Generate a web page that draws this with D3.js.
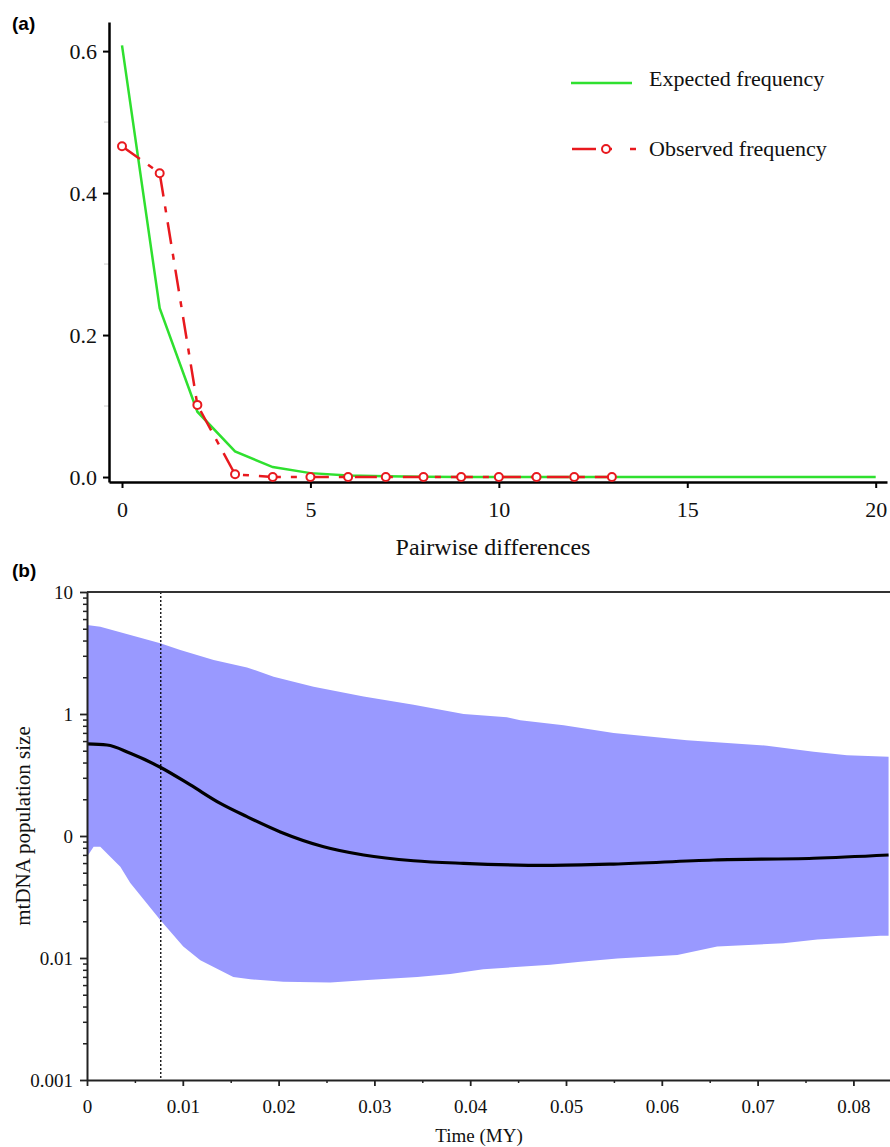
<!DOCTYPE html>
<html>
<head>
<meta charset="utf-8">
<script src="https://cdn.jsdelivr.net/npm/d3@7"></script>
<style>
  body { margin: 0; background: #fff; }
  svg { display: block; }
</style>
</head>
<body>
<div id="chart"></div>
<script>
// ---- panel (a): mismatch distribution ----
var diffs = [0,1,2,3,4,5,6,7,8,9,10,11,12,13,14,15,16,17,18,19,20];
var expectedFreq = [0.608,0.238,0.092,0.036,0.014,0.0055,0.002,0.001,0.0005,0.0002,0.0001,0,0,0,0,0,0,0,0,0,0];
var obsDiffs = [0,1,2,3,4,5,6,7,8,9,10,11,12,13];
var observedFreq = [0.466,0.428,0.1016,0.0038,0,0,0,0,0,0,0,0,0,0];
var freqTicks = [0,0.2,0.4,0.6];
var freqMinor = [0.1,0.3,0.5];
var diffTicks = [0,5,10,15,20];

// ---- panel (b): Bayesian skyline ----
var upperTime = [0,0.00139,0.00765,0.00974,0.01322,0.0167,0.01948,0.02365,0.02887,0.03409,0.03931,0.04384,0.04523,0.04975,0.05497,0.06263,0.07098,0.07585,0.07933,0.08367];
var upperSize = [5.36,5.20,3.80,3.35,2.77,2.41,2.02,1.67,1.39,1.19,1.0,0.94,0.89,0.81,0.70,0.61,0.55,0.49,0.46,0.447];
var medianTime = [0,0.00209,0.00452,0.00765,0.01079,0.01392,0.0167,0.02018,0.0247,0.02887,0.03409,0.03931,0.04802,0.05497,0.06541,0.07585,0.08367];
var medianSize = [0.568,0.557,0.476,0.366,0.262,0.185,0.144,0.108,0.0817,0.0699,0.0627,0.0597,0.0575,0.0589,0.0636,0.0657,0.0699];
var lowerTime = [0,0.00069,0.00139,0.00243,0.00348,0.00452,0.00765,0.01005,0.01183,0.01527,0.01705,0.02049,0.0254,0.02926,0.03448,0.03793,0.04137,0.04837,0.0515,0.05535,0.06162,0.06578,0.07268,0.07623,0.0828,0.08367];
var lowerSize = [0.0677,0.0817,0.0817,0.0677,0.056,0.0412,0.0205,0.0124,0.0096,0.0070,0.0067,0.0064,0.0063,0.0066,0.0070,0.0074,0.0081,0.0088,0.0093,0.0099,0.0106,0.0124,0.0132,0.0142,0.0152,0.0152];
var expansionTime = 0.0077;
var sizeTicks = [0.001,0.01,0.1,1,10];
var sizeLabels = ["0.001","0.01","0","1","10"];
var timeTicks = [0,0.01,0.02,0.03,0.04,0.05,0.06,0.07,0.08];
var timeLabels = ["0","0.01","0.02","0.03","0.04","0.05","0.06","0.07","0.08"];

var W = 890, H = 1147;
var SERIF = "'Liberation Serif', 'Times New Roman', serif";
var SANS = "'Liberation Sans', Arial, sans-serif";
var svg = d3.select("#chart").append("svg")
    .attr("width", W).attr("height", H);

var red = "#e8191e", green = "#2fe02f";

// ================= panel (a) =================
var xa = d3.scaleLinear().domain([-0.345, 20.3]).range([109, 887]);
var ya = d3.scaleLinear().domain([-0.007, 0.641]).range([482, 22]);

svg.append("text")
    .attr("x", 12).attr("y", 30)
    .style("font-family", SANS)
    .style("font-weight", "bold").style("font-size", "19px")
    .text("(a)");

// faint minor ticks
svg.append("g").selectAll("line").data(freqMinor).enter().append("line")
    .attr("x1", 104).attr("x2", 109)
    .attr("y1", d => ya(d)).attr("y2", d => ya(d))
    .attr("stroke", "#ddd").attr("stroke-width", 1.5);

var yAxisA = svg.append("g")
    .attr("transform", "translate(109,0)")
    .call(d3.axisLeft(ya).tickValues(freqTicks).tickFormat(d3.format(".1f")).tickSize(6).tickPadding(6).tickSizeOuter(0));
var xAxisA = svg.append("g")
    .attr("transform", "translate(0,482)")
    .call(d3.axisBottom(xa).tickValues(diffTicks).tickSize(6).tickPadding(13).tickSizeOuter(0));
[yAxisA, xAxisA].forEach(function(g) {
    g.attr("font-family", null);
    g.select(".domain").attr("stroke", "#000").attr("stroke-width", 2.5);
    g.selectAll(".tick line").attr("stroke", "#000").attr("stroke-width", 2);
    g.selectAll("text").style("font-family", SERIF).style("font-size", "22px").attr("fill", "#111");
});

svg.append("text")
    .attr("x", 493).attr("y", 555)
    .attr("text-anchor", "middle")
    .style("font-family", SERIF)
    .style("font-size", "24px").attr("fill", "#111")
    .text("Pairwise differences");

var lineA = d3.line().x(d => xa(d[0])).y(d => ya(d[1]));

svg.append("path")
    .datum(diffs.map((d, i) => [d, expectedFreq[i]]))
    .attr("d", lineA)
    .attr("fill", "none").attr("stroke", green).attr("stroke-width", 2.5);

var obs = obsDiffs.map((d, i) => [d, observedFreq[i]]);
svg.append("path")
    .datum(obs)
    .attr("d", lineA)
    .attr("fill", "none").attr("stroke", red).attr("stroke-width", 2.5)
    .attr("stroke-dasharray", "22,10,6,10");
svg.append("g").selectAll("circle").data(obs).enter().append("circle")
    .attr("cx", d => xa(d[0])).attr("cy", d => ya(d[1])).attr("r", 4)
    .attr("fill", "#fff").attr("stroke", red).attr("stroke-width", 2);

// legend
var leg = svg.append("g");
leg.append("line").attr("x1", 571).attr("x2", 632).attr("y1", 83).attr("y2", 83)
    .attr("stroke", green).attr("stroke-width", 2.5);
leg.append("text").attr("x", 649).attr("y", 86)
    .style("font-family", SERIF)
    .style("font-size", "22px").attr("fill", "#111").text("Expected frequency");
leg.append("line").attr("x1", 572).attr("x2", 596).attr("y1", 149).attr("y2", 149)
    .attr("stroke", red).attr("stroke-width", 2.5);
leg.append("line").attr("x1", 606).attr("x2", 612).attr("y1", 149).attr("y2", 149)
    .attr("stroke", red).attr("stroke-width", 2.5);
leg.append("circle").attr("cx", 606).attr("cy", 149).attr("r", 4)
    .attr("fill", "#fff").attr("stroke", red).attr("stroke-width", 2);
leg.append("line").attr("x1", 630).attr("x2", 636).attr("y1", 149).attr("y2", 149)
    .attr("stroke", red).attr("stroke-width", 2.5);
leg.append("text").attr("x", 649).attr("y", 156)
    .style("font-family", SERIF)
    .style("font-size", "22px").attr("fill", "#111").text("Observed frequency");

// ================= panel (b) =================
var xb = d3.scaleLinear().domain([0, 0.08382]).range([87, 890]);
var yb = d3.scaleLog().domain([0.001, 10]).range([1080, 592]);

svg.append("text")
    .attr("x", 12).attr("y", 577)
    .style("font-family", SANS)
    .style("font-weight", "bold").style("font-size", "19px")
    .text("(b)");

svg.append("defs").append("clipPath").attr("id", "plotb")
    .append("rect").attr("x", 87).attr("y", 592).attr("width", 803).attr("height", 488);

var bandPts = upperTime.map((t, i) => [t, upperSize[i]])
    .concat(lowerTime.map((t, i) => [t, lowerSize[i]]).reverse());
var lineB = d3.line().x(d => xb(d[0])).y(d => yb(d[1]));

var plot = svg.append("g").attr("clip-path", "url(#plotb)");
plot.append("path")
    .attr("d", lineB(bandPts) + "Z")
    .attr("fill", "#9999ff").attr("stroke", "none");
plot.append("path")
    .datum(medianTime.map((t, i) => [t, medianSize[i]]))
    .attr("d", lineB.curve(d3.curveMonotoneX))
    .attr("fill", "none").attr("stroke", "#000").attr("stroke-width", 3.2);

svg.append("line")
    .attr("x1", xb(expansionTime)).attr("x2", xb(expansionTime))
    .attr("y1", 592).attr("y2", 1080)
    .attr("stroke", "#000").attr("stroke-width", 1.3).attr("stroke-dasharray", "2,2");

// top frame
svg.append("line").attr("x1", 87).attr("x2", 890).attr("y1", 592).attr("y2", 592)
    .attr("stroke", "#333").attr("stroke-width", 2);

// minor ticks on log axis
var logMinor = [];
[0.001, 0.01, 0.1, 1].forEach(function(b) {
    for (var k = 2; k <= 9; k++) logMinor.push(b * k);
});
svg.append("g").attr("transform", "translate(87,0)")
    .call(d3.axisLeft(yb).tickValues(logMinor).tickSize(4).tickFormat(""))
    .call(g => g.select(".domain").remove())
    .selectAll(".tick line").attr("stroke", "#222").attr("stroke-width", 1.5);

var timeMinor = d3.range(0.005, 0.084, 0.01);
svg.append("g").attr("transform", "translate(0,1080)")
    .call(d3.axisBottom(xb).tickValues(timeMinor).tickSize(3).tickFormat(""))
    .call(g => g.select(".domain").remove())
    .selectAll(".tick line").attr("stroke", "#222").attr("stroke-width", 1.5);

var yAxisB = svg.append("g").attr("transform", "translate(87,0)")
    .call(d3.axisLeft(yb).tickValues(sizeTicks).tickFormat((d, i) => sizeLabels[i]).tickSize(7).tickPadding(7).tickSizeOuter(0));
var xAxisB = svg.append("g").attr("transform", "translate(0,1080)")
    .call(d3.axisBottom(xb).tickValues(timeTicks).tickFormat((d, i) => timeLabels[i]).tickSize(6).tickPadding(14).tickSizeOuter(0));
[yAxisB, xAxisB].forEach(function(g) {
    g.attr("font-family", null);
    g.select(".domain").attr("stroke", "#222").attr("stroke-width", 2);
    g.selectAll(".tick line").attr("stroke", "#222").attr("stroke-width", 1.8);
    g.selectAll("text").style("font-family", SERIF).style("font-size", "19px").attr("fill", "#111");
});

svg.append("text")
    .attr("x", 479).attr("y", 1142)
    .attr("text-anchor", "middle")
    .style("font-family", SERIF)
    .style("font-size", "19px").attr("fill", "#111")
    .text("Time (MY)");

svg.append("text")
    .attr("transform", "translate(30,826) rotate(-90)")
    .attr("text-anchor", "middle")
    .style("font-family", SERIF)
    .style("font-size", "21px").attr("fill", "#111")
    .text("mtDNA population size");
</script>
</body>
</html>
